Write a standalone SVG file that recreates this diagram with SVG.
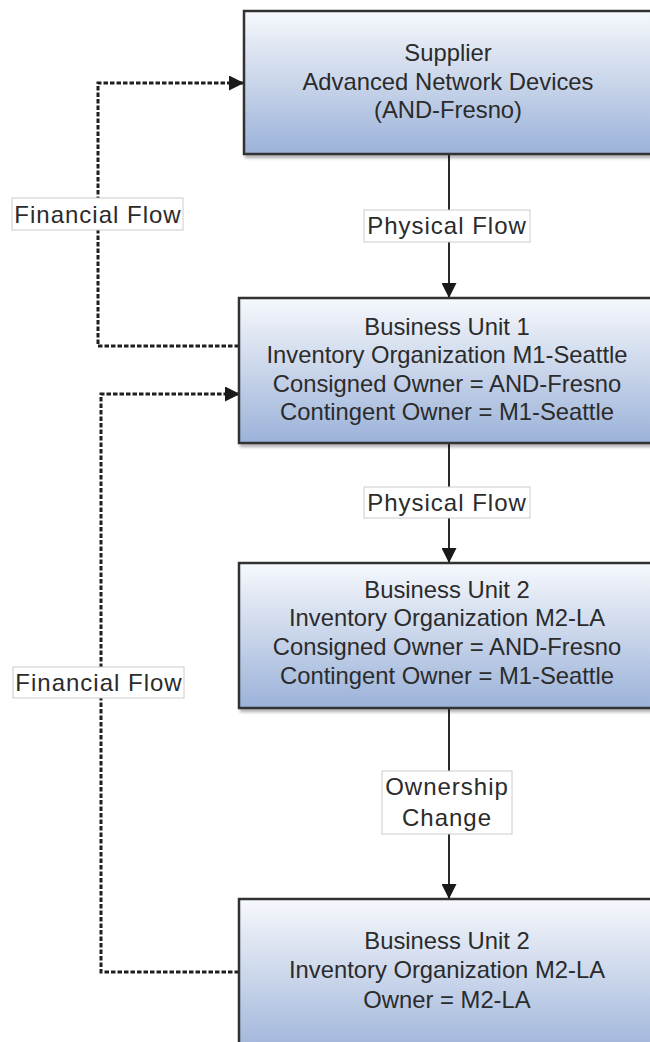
<svg xmlns="http://www.w3.org/2000/svg" width="650" height="1042" viewBox="0 0 650 1042">
<defs>
<linearGradient id="g" x1="0" y1="0" x2="0" y2="1">
<stop offset="0" stop-color="#f6f8fc"/>
<stop offset="0.5" stop-color="#c9d5ea"/>
<stop offset="1" stop-color="#9bb2d9"/>
</linearGradient>
<marker id="ah" viewBox="0 0 10 10" refX="10" refY="5" markerWidth="15" markerHeight="15" markerUnits="userSpaceOnUse" orient="auto">
<path d="M0,0 L10,5 L0,10 Z" fill="#1a1a1a"/>
</marker>
<filter id="sh" x="-5%" y="-5%" width="115%" height="120%">
<feGaussianBlur in="SourceAlpha" stdDeviation="1.5"/>
<feOffset dx="2" dy="3"/>
<feComponentTransfer><feFuncA type="linear" slope="0.3"/></feComponentTransfer>
<feMerge><feMergeNode/><feMergeNode in="SourceGraphic"/></feMerge>
</filter>
</defs>
<style>
.box{fill:url(#g);stroke:#333;stroke-width:2.5;filter:url(#sh)}
.t{font-family:"Liberation Sans",Arial,sans-serif;font-size:23.8px;fill:#2b2b2b;text-anchor:middle}
.l{font-family:"Liberation Sans",Arial,sans-serif;font-size:24px;letter-spacing:1px;fill:#2b2b2b;text-anchor:middle}
.lbl{fill:#fff;stroke:#ccc;stroke-width:1}
.solid{fill:none;stroke:#2a2a2a;stroke-width:2}
.dash{fill:none;stroke:#1e1e1e;stroke-width:3;stroke-dasharray:4.5 2}
</style>
<rect width="650" height="1042" fill="#fff"/>
<g id="connectors">
<path class="solid" d="M449,154 V298" marker-end="url(#ah)"/>
<path class="solid" d="M449,443 V563" marker-end="url(#ah)"/>
<path class="solid" d="M449,708 V899" marker-end="url(#ah)"/>
<path class="dash" d="M239,346 H98 V83 H244" marker-end="url(#ah)"/>
<path class="dash" d="M239,972 H101 V394 H240" marker-end="url(#ah)"/>
<g id="lbl-phys1"><rect class="lbl" x="364" y="210" width="166" height="32"/><text class="l" x="447" y="234">Physical Flow</text></g>
<g id="lbl-phys2"><rect class="lbl" x="364" y="487" width="166" height="31"/><text class="l" x="447" y="511">Physical Flow</text></g>
<g id="lbl-own"><rect class="lbl" x="382" y="771" width="130" height="63"/><text class="l" x="447" y="795">Ownership</text><text class="l" x="447" y="826">Change</text></g>
<g id="lbl-fin1"><rect class="lbl" x="12" y="198" width="171" height="32"/><text class="l" x="98" y="223">Financial Flow</text></g>
<g id="lbl-fin2"><rect class="lbl" x="13" y="667" width="171" height="31"/><text class="l" x="99" y="691">Financial Flow</text></g>
</g>
<g id="supplier">
<rect class="box" x="244" y="11" width="420" height="143"/>
<text class="t" x="448" y="61">Supplier</text>
<text class="t" x="448" y="90">Advanced Network Devices</text>
<text class="t" x="448" y="118">(AND-Fresno)</text>
</g>
<g id="bu1">
<rect class="box" x="239" y="298" width="425" height="145"/>
<text class="t" x="447" y="335">Business Unit 1</text>
<text class="t" x="447" y="363">Inventory Organization M1-Seattle</text>
<text class="t" x="447" y="392">Consigned Owner = AND-Fresno</text>
<text class="t" x="447" y="420">Contingent Owner = M1-Seattle</text>
</g>
<g id="bu2a">
<rect class="box" x="239" y="563" width="425" height="145"/>
<text class="t" x="447" y="598">Business Unit 2</text>
<text class="t" x="447" y="626">Inventory Organization M2-LA</text>
<text class="t" x="447" y="655">Consigned Owner = AND-Fresno</text>
<text class="t" x="447" y="684">Contingent Owner = M1-Seattle</text>
</g>
<g id="bu2b">
<rect class="box" x="239" y="899" width="425" height="160"/>
<text class="t" x="447" y="949">Business Unit 2</text>
<text class="t" x="447" y="978">Inventory Organization M2-LA</text>
<text class="t" x="447" y="1008">Owner = M2-LA</text>
</g>
</svg>
